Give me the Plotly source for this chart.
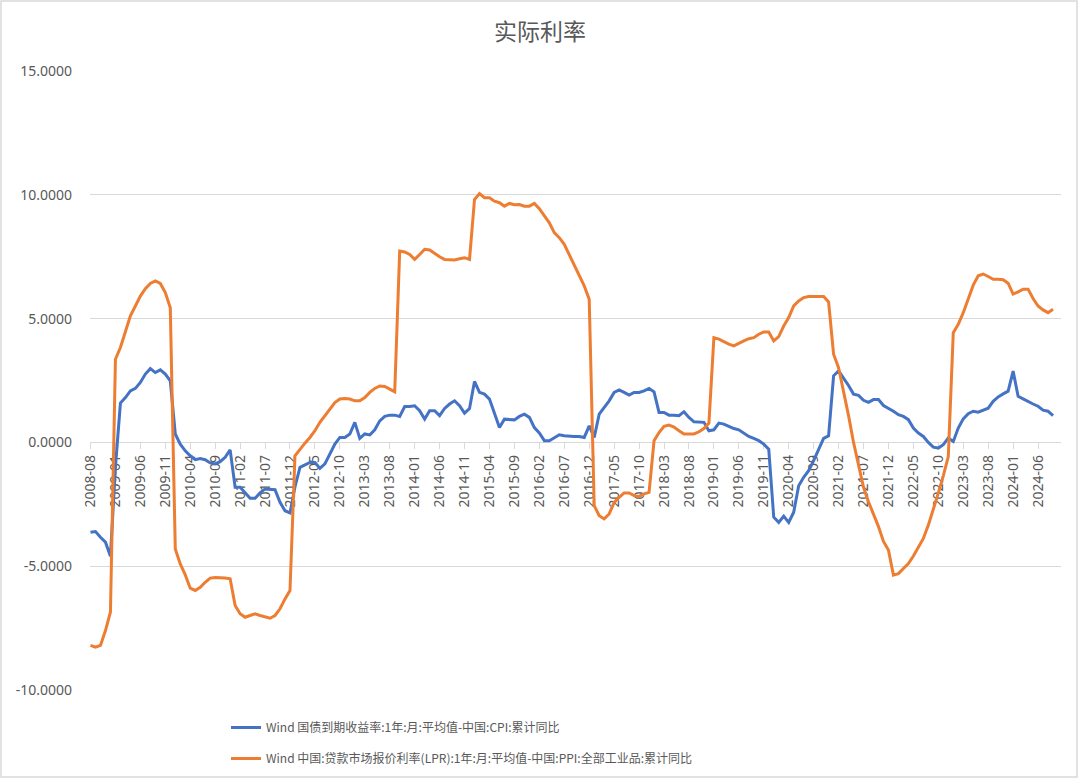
"""
Real interest rate chart: 1Y gov bond yield minus CPI, 1Y LPR minus PPI (monthly).
"""

import plotly.graph_objects as go

WIDTH = 1080
HEIGHT = 780

TITLE = "实际利率"
NAME_CPI = "Wind 国债到期收益率:1年:月:平均值-中国:CPI:累计同比"
NAME_PPI = "Wind 中国:贷款市场报价利率(LPR):1年:月:平均值-中国:PPI:全部工业品:累计同比"

COLOR_CPI = "#4472C4"
COLOR_PPI = "#ED7D31"
TEXT_COLOR = "#595959"
GRID_COLOR = "#D9D9D9"

# monthly categories 2008-08 .. 2024-09
N_MONTHS = 194
months = [f"{2008 + (7 + k) // 12}-{(7 + k) % 12 + 1:02d}" for k in range(N_MONTHS)]

# 国债1年 - CPI累计同比
cpi_real = [
    -3.63, -3.60, -3.83, -4.03, -4.60, -1.00, 1.59, 1.81, 2.08, 2.18,
    2.42, 2.76, 2.98, 2.82, 2.93, 2.76, 2.49, 0.34, -0.07, -0.34,
    -0.54, -0.70, -0.65, -0.70, -0.83, -0.87, -0.78, -0.60, -0.30, -1.81,
    -1.81, -2.04, -2.26, -2.26, -2.04, -1.88, -1.88, -1.91, -2.42, -2.76,
    -2.85, -1.80, -1.01, -0.91, -0.81, -0.81, -1.05, -0.87, -0.47, -0.07,
    0.20, 0.20, 0.34, 0.81, 0.16, 0.34, 0.30, 0.51, 0.87, 1.05,
    1.10, 1.10, 1.05, 1.45, 1.45, 1.48, 1.28, 0.94, 1.28, 1.28,
    1.08, 1.37, 1.55, 1.68, 1.48, 1.18, 1.37, 2.46, 2.02, 1.95,
    1.75, 1.21, 0.60, 0.94, 0.91, 0.91, 1.05, 1.14, 1.01, 0.60,
    0.38, 0.07, 0.07, 0.20, 0.31, 0.27, 0.24, 0.24, 0.24, 0.20,
    0.67, 0.20, 1.14, 1.41, 1.68, 2.02, 2.12, 2.02, 1.91, 2.02,
    2.02, 2.08, 2.18, 2.04, 1.21, 1.21, 1.10, 1.10, 1.08, 1.24,
    1.01, 0.83, 0.83, 0.81, 0.47, 0.51, 0.78, 0.74, 0.65, 0.56,
    0.51, 0.38, 0.24, 0.16, 0.07, -0.07, -0.27, -3.02, -3.23, -2.98,
    -3.23, -2.82, -1.75, -1.41, -1.14, -0.74, -0.30, 0.16, 0.27, 2.69,
    2.89, 2.60, 2.30, 1.95, 1.90, 1.70, 1.62, 1.73, 1.73, 1.49,
    1.38, 1.26, 1.12, 1.05, 0.92, 0.58, 0.38, 0.24, 0.00, -0.19,
    -0.23, -0.09, 0.18, 0.04, 0.58, 0.95, 1.16, 1.26, 1.22, 1.30,
    1.38, 1.66, 1.84, 1.96, 2.07, 2.88, 1.86, 1.76, 1.64, 1.55,
    1.46, 1.30, 1.26, 1.08,
]

# LPR 1年 - PPI累计同比
ppi_real = [
    -8.20, -8.27, -8.20, -7.60, -6.85, 3.36, 3.83, 4.50, 5.11, 5.51,
    5.91, 6.21, 6.42, 6.52, 6.42, 6.05, 5.44, -4.30, -4.91, -5.35,
    -5.89, -5.98, -5.85, -5.65, -5.48, -5.46, -5.46, -5.48, -5.51, -6.59,
    -6.92, -7.06, -6.99, -6.92, -6.99, -7.06, -7.10, -6.99, -6.72, -6.32,
    -5.98, -0.54, -0.27, -0.03, 0.20, 0.47, 0.81, 1.08, 1.34, 1.61,
    1.75, 1.77, 1.75, 1.68, 1.68, 1.81, 2.02, 2.18, 2.28, 2.26,
    2.15, 2.04, 7.73, 7.69, 7.59, 7.39, 7.59, 7.80, 7.77, 7.63,
    7.50, 7.39, 7.37, 7.37, 7.42, 7.46, 7.39, 9.81, 10.05, 9.88,
    9.88, 9.74, 9.68, 9.54, 9.65, 9.60, 9.61, 9.54, 9.54, 9.65,
    9.44, 9.14, 8.87, 8.47, 8.27, 8.00, 7.59, 7.19, 6.79, 6.32,
    5.78, -2.55, -2.96, -3.09, -2.89, -2.42, -2.22, -2.04, -2.04, -2.15,
    -2.18, -2.08, -2.02, 0.07, 0.40, 0.65, 0.70, 0.62, 0.47, 0.34,
    0.34, 0.34, 0.43, 0.56, 0.78, 4.23, 4.17, 4.06, 3.97, 3.90,
    4.01, 4.10, 4.19, 4.23, 4.37, 4.46, 4.46, 4.10, 4.27, 4.70,
    5.04, 5.51, 5.71, 5.85, 5.89, 5.89, 5.89, 5.89, 5.67, 3.56,
    3.02, 2.08, 1.08, 0.00, -0.94, -1.81, -2.40, -2.90, -3.40, -4.00,
    -4.35, -5.36, -5.30, -5.09, -4.89, -4.59, -4.24, -3.88, -3.34, -2.73,
    -2.05, -1.35, -0.57, 4.43, 4.77, 5.24, 5.81, 6.35, 6.73, 6.80,
    6.70, 6.59, 6.59, 6.57, 6.43, 5.99, 6.08, 6.19, 6.19, 5.81,
    5.51, 5.35, 5.24, 5.38,
]

y_ticks = [-10, -5, 0, 5, 10, 15]
y_tick_labels = [f"{v:.4f}" for v in y_ticks]  # hyphen minus, like Excel
x_ticks = months[::5]

Y_MIN, Y_MAX = -10, 15
# fixed plot box; autoexpand off so the legend below does not push the margins
MARGIN = dict(l=90, r=19, t=71, b=90, autoexpand=False)

# page has an 8px body margin by default; drop it so the figure sits at 0,0
NO_BODY_MARGIN = "document.body.style.margin='0';document.body.style.overflow='hidden';"


def main() -> None:
    fig = go.Figure()

    for name, values, color, group in [
        (NAME_CPI, cpi_real, COLOR_CPI, "a"),
        (NAME_PPI, ppi_real, COLOR_PPI, "b"),
    ]:
        fig.add_trace(go.Scatter(
            x=months,
            y=values,
            mode="lines",
            name=name,
            legendgroup=group,
            line=dict(color=color, width=3, shape="linear"),
        ))

    plot_w = WIDTH - MARGIN["l"] - MARGIN["r"]
    plot_h = HEIGHT - MARGIN["t"] - MARGIN["b"]
    bottom = HEIGHT - MARGIN["b"]

    # Excel-style outer chart border
    fig.add_shape(
        type="rect", xref="paper", yref="paper",
        x0=(1 - MARGIN["l"]) / plot_w,
        x1=(1077 - MARGIN["l"]) / plot_w,
        y0=(bottom - 777) / plot_h,
        y1=(bottom - 1) / plot_h,
        line=dict(color=GRID_COLOR, width=1.5),
        layer="below",
    )

    tick_font = dict(family="Noto Sans, Liberation Sans, sans-serif", size=14, color=TEXT_COLOR)

    fig.update_layout(
        width=WIDTH,
        height=HEIGHT,
        margin=MARGIN,
        paper_bgcolor="white",
        plot_bgcolor="white",
        title=dict(
            text=TITLE,
            x=0.5,
            xref="container",
            xanchor="center",
            y=1 - 32 / HEIGHT,
            yref="container",
            yanchor="middle",
            font=dict(family="Noto Sans CJK SC", size=23, color=TEXT_COLOR),
        ),
        xaxis=dict(
            type="category",
            range=[-0.1, N_MONTHS + 0.6],
            tickmode="array",
            tickvals=x_ticks,
            ticktext=x_ticks,
            tickangle=-90,
            tickfont=tick_font,
            ticks="outside",
            ticklen=6,
            tickcolor=GRID_COLOR,
            showgrid=False,
            showline=True,
            linecolor=GRID_COLOR,
            linewidth=1,
            anchor="free",
            position=(0 - Y_MIN) / (Y_MAX - Y_MIN),
            zeroline=False,
            layer="below traces",
            automargin=False,
        ),
        yaxis=dict(
            range=[Y_MIN, Y_MAX],
            tickmode="array",
            tickvals=y_ticks,
            ticktext=y_tick_labels,
            tickfont=tick_font,
            showgrid=True,
            gridcolor=GRID_COLOR,
            gridwidth=1,
            zeroline=False,
            showline=False,
            ticklabelstandoff=17,
            layer="below traces",
            automargin=False,
        ),
        legend=dict(
            orientation="v",
            x=(226 - MARGIN["l"]) / plot_w,
            xanchor="left",
            y=(bottom - 713) / plot_h,
            yanchor="top",
            traceorder="grouped",
            tracegroupgap=12,
            font=dict(family="Noto Sans CJK SC", size=12, color=TEXT_COLOR),
            bgcolor="rgba(0,0,0,0)",
        ),
        showlegend=True,
    )

    fig.write_html(
        "out.html",
        post_script=NO_BODY_MARGIN,
        config={"displayModeBar": False},
    )


if __name__ == "__main__":
    main()
